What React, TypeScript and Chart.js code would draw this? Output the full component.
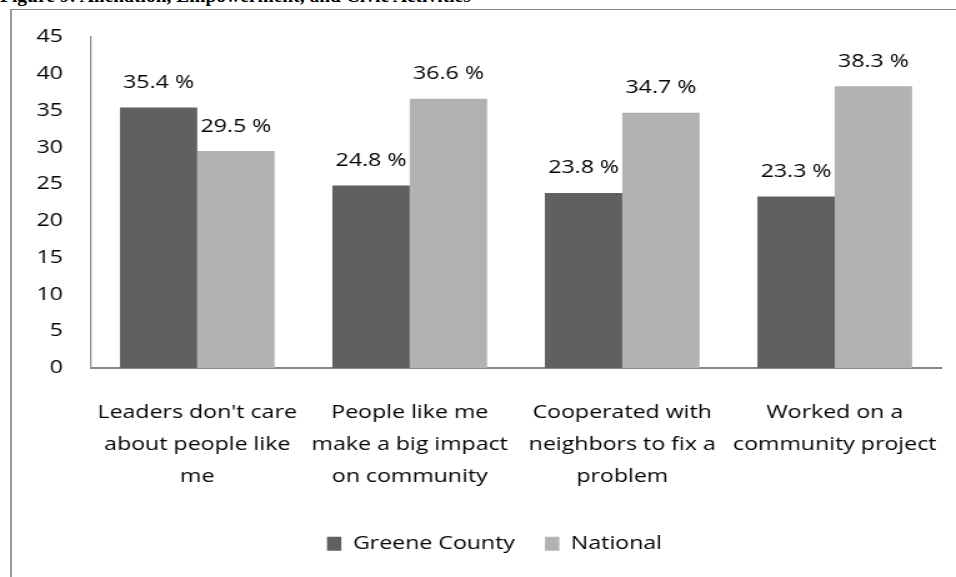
import React, { useEffect, useRef } from "react";
import { Chart, registerables } from "chart.js";

Chart.register(...registerables);

const figureTitle = "Figure 9: Alienation, Empowerment, and Civic Activities";
const categories: string[][] = [
  ["Leaders don't care", "about people like", "me"],
  ["People like me", "make a big impact", "on community"],
  ["Cooperated with", "neighbors to fix a", "problem"],
  ["Worked on a", "community project"],
];
const seriesNames = ["Greene County", "National"];
const greeneCounty = [35.4, 24.8, 23.8, 23.3];
const national = [29.5, 36.6, 34.7, 38.3];
const yMin = 0;
const yMax = 45;
const yStep = 5;

// The original figure is horizontally stretched; draw at a narrower logical width
// and stretch the canvas the same way.
const CANVAS_W = 765;
const CANVAS_H = 577;
const SX = 956 / CANVAS_W;

const FONT = "'Open Sans', 'DejaVu Sans', sans-serif";
const FONT_SIZE = 18.5;
const AXIS_COLOR = "#868686";

const valueLabels = {
  id: "valueLabels",
  afterDatasetsDraw(chart: any) {
    const ctx = chart.ctx;
    ctx.save();
    ctx.font = `${FONT_SIZE}px ${FONT}`;
    ctx.fillStyle = "#000";
    ctx.textAlign = "center";
    ctx.textBaseline = "alphabetic";
    chart.data.datasets.forEach((ds: any, i: number) => {
      const meta = chart.getDatasetMeta(i);
      meta.data.forEach((el: any, j: number) => {
        const v = ds.data[j] as number;
        ctx.fillText(v.toFixed(1) + " %", el.x, el.y - 19.5);
      });
    });
    ctx.restore();
  },
};

// centre the legend under the whole original figure frame
const legendShift = {
  id: "legendShift",
  afterLayout(chart: any) {
    const lg = chart.legend;
    if (lg) {
      lg.left = 38.4;
      lg.right = chart.chartArea.right;
    }
  },
};

export default function App() {
  const ref = useRef<HTMLCanvasElement | null>(null);

  useEffect(() => {
    if (!ref.current) return;
    const chart = new Chart(ref.current, {
      type: "bar",
      data: {
        labels: categories,
        datasets: [
          {
            label: seriesNames[0],
            data: greeneCounty,
            backgroundColor: "#606060",
            borderWidth: 0,
            categoryPercentage: 0.728,
            barPercentage: 1,
          },
          {
            label: seriesNames[1],
            data: national,
            backgroundColor: "#b2b2b2",
            borderWidth: 0,
            categoryPercentage: 0.728,
            barPercentage: 1,
          },
        ],
      },
      options: {
        animation: false,
        responsive: false,
        maintainAspectRatio: false,
        devicePixelRatio: 1,
        layout: { padding: { left: 0, right: 12, top: 37, bottom: 14 } },
        plugins: {
          tooltip: { enabled: false },
          title: { display: false },
          legend: {
            display: true,
            position: "bottom",
            labels: {
              boxWidth: 11.5,
              boxHeight: 14,
              padding: 24,
              color: "#000",
              font: { family: FONT, size: FONT_SIZE },
            },
          },
        },
        scales: {
          x: {
            grid: { display: false, drawTicks: false },
            border: { display: true, color: AXIS_COLOR, width: 2 },
            ticks: {
              color: "#000",
              font: { family: FONT, size: FONT_SIZE, lineHeight: "32px" },
              padding: 29,
              maxRotation: 0,
              minRotation: 0,
              autoSkip: false,
            },
            afterFit: (s: any) => {
              const lh = s.chart.legend && s.chart.legend.height ? s.chart.legend.height : 60;
              s.height = s.chart.height - 14 - lh - 368;
              s.paddingLeft = 0;
              s.paddingRight = 0;
            },
          },
          y: {
            min: yMin,
            max: yMax,
            grid: { display: false, drawTicks: false },
            border: { display: true, color: AXIS_COLOR, width: 1.2 },
            ticks: {
              stepSize: yStep,
              color: "#000",
              font: { family: FONT, size: FONT_SIZE },
              padding: 22.4,
            },
            afterFit: (s: any) => {
              s.width = 72.8;
            },
          },
        },
      },
      plugins: [valueLabels, legendShift],
    } as any);
    return () => chart.destroy();
  }, []);

  return (
    <div
      style={{
        position: "fixed",
        left: 0,
        top: 0,
        width: 956,
        height: 577,
        overflow: "hidden",
        background: "#fff",
      }}
    >
      <div
        style={{
          position: "absolute",
          left: 0,
          top: -14,
          whiteSpace: "nowrap",
          fontFamily: "'Liberation Serif', 'Times New Roman', serif",
          fontWeight: "bold",
          fontSize: 19.5,
          lineHeight: "20px",
          color: "#000",
        }}
      >
        {figureTitle}
      </div>
      <div
        style={{
          position: "absolute",
          left: 10,
          top: 9,
          width: 2000,
          height: 2000,
          borderLeft: "2px solid #9a9a9a",
          borderTop: "1px solid #8a8a8a",
        }}
      />
      <canvas
        ref={ref}
        width={CANVAS_W}
        height={CANVAS_H}
        style={{
          position: "absolute",
          left: 0,
          top: 0,
          width: CANVAS_W,
          height: CANVAS_H,
          transform: `scaleX(${SX})`,
          transformOrigin: "0 0",
        }}
      />
    </div>
  );
}
